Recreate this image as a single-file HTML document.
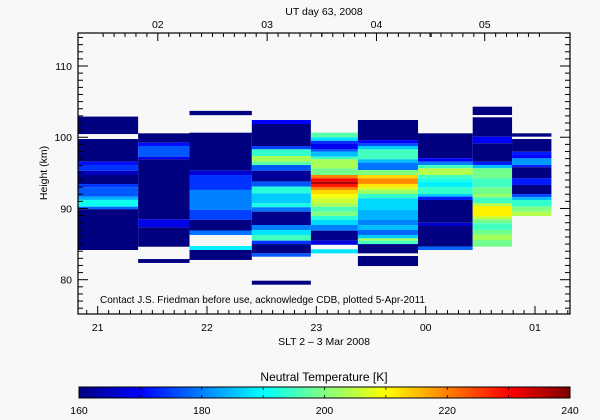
<!DOCTYPE html>
<html><head><meta charset="utf-8">
<style>
html,body{margin:0;padding:0;background:#f8f8f8;}
svg{display:block;font-family:"Liberation Sans",sans-serif;}
</style></head>
<body>
<svg id="chart" width="600" height="420" viewBox="0 0 600 420">
<defs>
<linearGradient id="jet" x1="0" x2="1" y1="0" y2="0">
<stop offset="0" stop-color="#00007f"/>
<stop offset="0.125" stop-color="#0000ff"/>
<stop offset="0.375" stop-color="#00ffff"/>
<stop offset="0.5" stop-color="#80ff80"/>
<stop offset="0.625" stop-color="#ffff00"/>
<stop offset="0.875" stop-color="#ff0000"/>
<stop offset="1" stop-color="#7f0000"/>
</linearGradient>
</defs>
<rect x="0" y="0" width="600" height="420" fill="#f8f8f8"/>
<g id="cells"></g>
<g id="axes"></g>
<text x="324" y="15" font-size="10.5" text-anchor="middle">UT day 63, 2008</text>
<text x="324" y="345" font-size="10.5" text-anchor="middle">SLT 2 – 3 Mar 2008</text>
<text x="47" y="173" font-size="10.5" text-anchor="middle" transform="rotate(-90 47 173)">Height (km)</text>
<text x="100" y="303" font-size="10">Contact J.S. Friedman before use, acknowledge CDB, plotted 5-Apr-2011</text>
<text x="324" y="381" font-size="12" text-anchor="middle">Neutral Temperature [K]</text>
<rect x="79" y="387" width="491" height="11" fill="url(#jet)" stroke="#000" stroke-width="1"/>
<g id="cbticks"></g>
</svg>
<script>
const colStart = [20.82, 21.37, 21.84, 22.41, 22.95, 23.38, 23.93, 24.43, 24.79];
const colEnd   = [21.37, 21.84, 22.41, 22.95, 23.38, 23.93, 24.43, 24.79, 25.15];
const profile1 = [[102.9,100.45,160],[99.75,96.57,160],[96.57,96.1,171],[96.1,95.3,174],[95.3,94.7,165],[94.7,93.43,160],[93.43,92.97,174],[92.97,91.65,177],[91.65,91.2,184],[91.2,90.25,191],[90.25,89.9,178],[89.9,84.17,160]];
const profile2 = [[100.55,99.23,160],[99.23,98.77,171],[98.77,97.27,177],[97.27,96.9,169],[96.9,88.48,160],[88.48,87.35,168],[87.35,84.63,160],[82.9,82.35,160]];
const profile3 = [[103.7,103.1,160],[100.64,95.3,160],[95.3,94.7,167],[94.7,92.6,174],[92.6,89.8,180],[89.8,88.4,175],[88.4,86.9,160],[86.9,86.28,179],[84.73,84.17,189],[84.17,82.77,160]];
const profile4 = [[102.42,101.86,170],[101.86,98.77,160],[98.77,98.3,175],[98.3,97.37,194],[97.37,96.57,203],[96.57,96.1,197],[96.1,95.3,177],[95.3,93.76,162],[93.76,93.06,177],[93.06,92.13,193],[92.13,90.72,186],[90.72,90.17,192],[90.17,89.55,179],[89.55,87.68,161],[87.68,86.98,180],[86.98,86.28,188],[86.28,85.48,195],[85.48,85.0,174],[85.0,83.7,160],[83.7,83.23,177],[79.86,79.3,160]];
const profile5 = [[100.64,99.99,197],[99.99,99.5,188],[99.5,99.14,174],[99.14,98.3,169],[98.3,97.96,177],[97.96,97.26,185],[97.26,96.9,195],[96.9,95.64,203],[95.64,94.7,199],[94.7,94.23,220],[94.23,93.76,230],[93.76,93.44,237],[93.44,92.97,228],[92.97,92.6,220],[92.6,92.03,213],[92.03,91.43,209],[91.43,90.72,206],[90.72,90.25,203],[90.25,89.55,196],[89.55,88.94,200],[88.94,88.38,193],[88.38,87.68,187],[87.68,86.88,180],[86.88,85.48,161],[85.48,84.9,168],[84.27,83.7,188]];
const profile6 = [[102.42,99.6,160],[99.6,99.14,170],[99.14,98.77,176],[98.77,98.3,186],[98.3,96.9,195],[96.9,96.43,185],[96.43,95.4,179],[95.4,94.7,200],[94.7,94.23,213],[94.23,93.44,219],[93.44,92.97,212],[92.97,92.6,207],[92.6,92.03,202],[92.03,91.43,194],[91.43,89.79,187],[89.79,88.38,184],[88.38,87.68,180],[87.68,86.98,185],[86.98,86.28,178],[86.28,85.8,186],[85.8,85.48,203],[85.48,85.0,195],[85.0,83.7,160],[83.33,81.92,160]];
const profile7 = [[100.55,97.04,160],[97.04,96.57,170],[96.57,96.1,180],[96.1,95.64,195],[95.64,94.7,204],[94.7,94.23,195],[94.23,93.76,192],[93.76,92.97,189],[92.97,92.03,194],[92.03,91.66,186],[91.66,91.19,172],[91.19,88.0,160],[88.0,87.54,166],[87.54,84.63,160],[84.63,84.17,178]];
const profile8 = [[104.29,103.12,160],[102.8,100.08,160],[100.08,99.15,170],[99.15,96.57,160],[96.57,96.1,172],[96.1,95.64,185],[95.64,94.23,199],[94.23,92.97,195],[92.97,92.03,199],[92.03,91.57,202],[91.57,90.72,195],[90.72,90.35,204],[90.35,88.94,211],[88.94,88.48,206],[88.48,87.92,199],[87.92,86.98,195],[86.98,86.28,199],[86.28,85.57,203],[85.57,84.63,199]];
const profile9 = [[100.55,100.08,160],[99.75,97.96,160],[97.96,97.5,172],[97.5,97.04,170],[97.04,96.1,182],[96.1,95.78,172],[95.78,94.23,160],[94.23,93.3,172],[93.3,92.03,160],[92.03,91.57,176],[91.57,91.19,185],[91.19,90.25,194],[90.25,89.55,200],[89.55,88.94,204]];
const profiles = [profile1, profile2, profile3, profile4, profile5, profile6, profile7, profile8, profile9];
const bottomTickLabels = ["21","22","23","00","01"];
const bottomTickHours = [21,22,23,24,25];
const topTickLabels = ["02","03","04","05"];
const topTickHours = [21.55,22.55,23.55,24.54];
const yTickLabels = ["80","90","100","110"];
const yTickValues = [80,90,100,110];
const cbTickLabels = ["160","180","200","220","240"];
const cbTickValues = [160,180,200,220,240];

const X0 = 78, X1 = 570, Y0 = 33, Y1 = 314;
const tMin = 20.82, tMax = 25.32;
const xs = t => X0 + (t - tMin) / (tMax - tMin) * (X1 - X0);
const ys = h => 279.7 - (h - 80) * 7.123;
const cbx = v => 79 + (v - 160) / 80 * 491;
function jet(v){
  let t = Math.max(0, Math.min(1, (v - 160) / 80));
  const f = x => Math.max(0, Math.min(1, x));
  const r = f(1.5 - Math.abs(4*t - 3));
  const g = f(1.5 - Math.abs(4*t - 2));
  const b = f(1.5 - Math.abs(4*t - 1));
  return `rgb(${Math.round(r*255)},${Math.round(g*255)},${Math.round(b*255)})`;
}
const NS = "http://www.w3.org/2000/svg";
function mk(tag, attrs, parent){
  const e = document.createElementNS(NS, tag);
  for (const k in attrs) e.setAttribute(k, attrs[k]);
  parent.appendChild(e); return e;
}
const cells = document.getElementById('cells');
profiles.forEach((p, i) => {
  p.forEach(s => {
    const r = mk('rect', {x: xs(colStart[i]), y: ys(s[0]), width: xs(colEnd[i]) - xs(colStart[i]), height: ys(s[1]) - ys(s[0]), fill: jet(s[2])}, cells);
    
    
  });
});
const ax = document.getElementById('axes');
const frame = mk('rect', {x: X0, y: Y0, width: X1 - X0, height: Y1 - Y0, fill: 'none', stroke: '#000', 'stroke-width': 1.2}, ax);


for (let k = Math.ceil(tMin*10); k <= Math.floor(tMax*10); k++){
  const t = k/10, x = xs(t);
  const major = Math.abs(t - Math.round(t)) < 1e-6;
  const L = major ? 8 : 4;
  mk('line', {x1:x, x2:x, y1:Y1, y2:Y1-L, stroke:'#000'}, ax);
}
topTickHours.forEach(t => {
  for (let d = -0.5; d <= 0.5; d += 0.1){
    const tt = t + d; if (tt < tMin || tt > tMax) continue;
    const x = xs(tt); const L = Math.abs(d) < 1e-6 ? 8 : 4;
    mk('line', {x1:x, x2:x, y1:Y0, y2:Y0+L, stroke:'#000'}, ax);
  }
});
for (let h = 76; h <= 114; h++){
  const y = ys(h); const L = h % 10 === 0 ? 10 : 5;
  mk('line', {x1:X0, x2:X0+L, y1:y, y2:y, stroke:'#000'}, ax);
  mk('line', {x1:X1, x2:X1-L, y1:y, y2:y, stroke:'#000'}, ax);
}
bottomTickLabels.forEach((lab, i) => {
  const t = mk('text', {x: xs(bottomTickHours[i]), y: 331, 'font-size': 10.5, 'text-anchor': 'middle'}, ax);
  t.textContent = lab;
  
  
});
topTickLabels.forEach((lab, i) => {
  const t = mk('text', {x: xs(topTickHours[i]), y: 28, 'font-size': 10.5, 'text-anchor': 'middle'}, ax);
  t.textContent = lab;
  
  
});
yTickLabels.forEach((lab, i) => {
  const t = mk('text', {x: 72, y: ys(yTickValues[i]) + 4, 'font-size': 10.5, 'text-anchor': 'end'}, ax);
  t.textContent = lab;
  
  
});
const cbt = document.getElementById('cbticks');
for (let v = 170; v < 240; v += 10){
  mk('line', {x1:cbx(v), x2:cbx(v), y1:387, y2:390, stroke:'#000', 'stroke-width':0.8}, cbt);
  mk('line', {x1:cbx(v), x2:cbx(v), y1:395, y2:398, stroke:'#000', 'stroke-width':0.8}, cbt);
}
cbTickLabels.forEach((lab, i) => {
  const t = mk('text', {x: cbx(cbTickValues[i]), y: 414, 'font-size': 10.5, 'text-anchor': 'middle'}, cbt);
  t.textContent = lab;
  
  
});
</script>
</body></html>
